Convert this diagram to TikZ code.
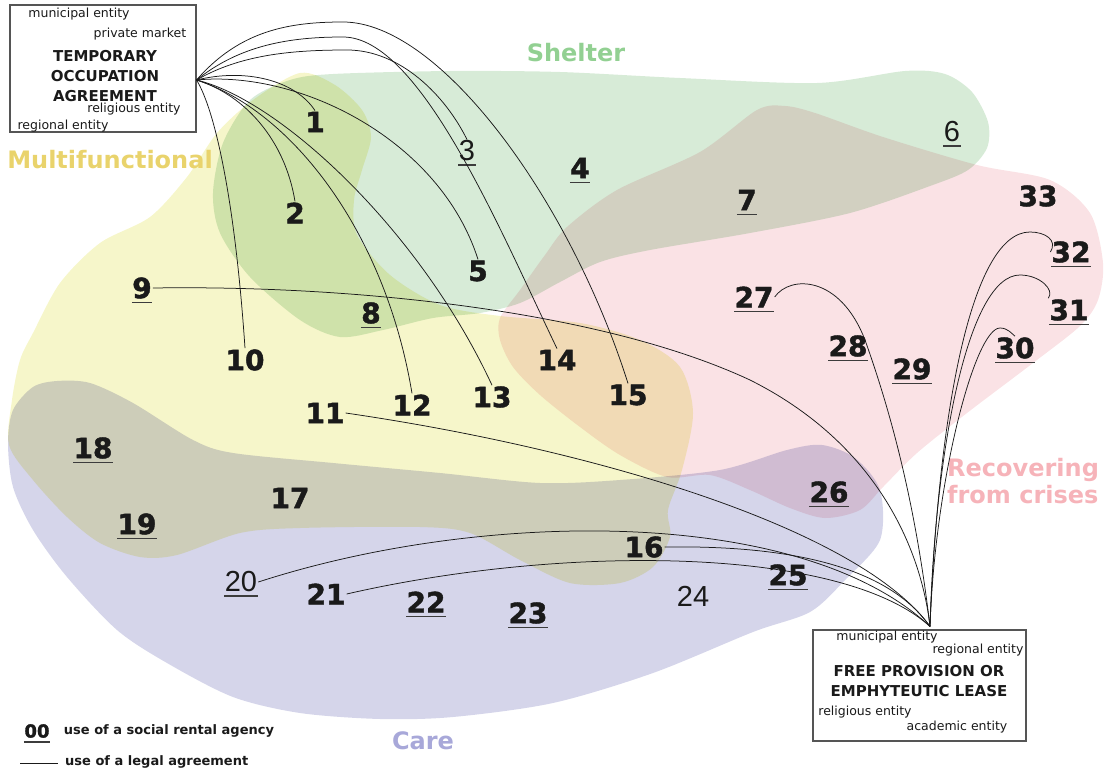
\documentclass[tikz,border=0pt]{standalone}
\usepackage{fontspec}
\setmainfont{DejaVu Sans}
\newfontfamily\thinfont{Liberation Sans}
\newfontfamily\heavyfont{DejaVu Sans}[BoldFeatures={FakeBold=1.6}]
\usetikzlibrary{positioning}

\definecolor{ink}{HTML}{1A1A1A}
\definecolor{boxgrey}{HTML}{555555}
\definecolor{multifill}{HTML}{F6F6CA}
\definecolor{shelterfill}{HTML}{D7EBD7}
\definecolor{recoverfill}{HTML}{FAE2E5}
\definecolor{carefill}{HTML}{D5D5EA}
\definecolor{multitext}{HTML}{E9D36C}
\definecolor{sheltertext}{HTML}{92D092}
\definecolor{recovertext}{HTML}{F6B3B9}
\definecolor{caretext}{HTML}{A8A8D9}

% underlined number (social rental agency)
\newsavebox{\numbox}
\newcommand{\undl}[1]{\sbox{\numbox}{#1}\rlap{\kern-0.5pt\smash{\color{ink!85}\rule[-5pt]{\dimexpr\wd\numbox+1pt\relax}{1.6pt}}}\usebox{\numbox}}

\begin{document}
\begin{tikzpicture}[
		x=1pt, y=-1pt,
		blob/.style      = {blend mode=multiply},
		num/.style       = {font=\heavyfont\fontsize{28}{28}\selectfont\bfseries, text=ink, inner sep=1pt},
		numlight/.style  = {font=\thinfont\fontsize{29}{29}\selectfont, text=ink, inner sep=1pt},
		region/.style    = {font=\fontsize{24}{27}\selectfont\bfseries, inner sep=0pt},
		small/.style     = {font=\fontsize{12.5}{14}\selectfont, text=ink, inner sep=0pt},
		heading/.style   = {font=\fontsize{15}{20}\selectfont\bfseries, align=center, text=ink, inner sep=0pt},
		agreement/.style = {draw=boxgrey, line width=1.1pt, fill=white, inner sep=0pt},
		legtext/.style   = {font=\fontsize{13}{15}\selectfont\bfseries, text=ink, inner sep=0pt, anchor=west},
		link/.style      = {draw=ink, line width=0.75pt},
	]
	\useasboundingbox (0,0) rectangle (1114,776);
	% the four fields
	\begin{scope}[blob]
		\fill[multifill] plot[smooth cycle] coordinates {(300,73) (335,85) (362,110) (371,137) (362,170) (354,200) (357,235) (390,275) (440,305) (500,316) (580,323) (640,340) (680,367) (693,413) (682,470) (668,510) (670,537) (653,567) (620,583) (570,583) (520,560) (470,533) (420,527) (300,528) (240,533) (177,555) (140,557) (100,543) (67,517) (33,480) (9,445) (12,400) (20,360) (33,333) (60,283) (100,243) (150,217) (187,177) (217,133) (253,100)};
		\fill[shelterfill] plot[smooth cycle] coordinates {(333,74) (450,71) (560,72) (680,78) (817,83) (905,71) (945,74) (972,92) (988,122) (987,148) (968,170) (930,186) (850,213) (750,233) (650,250) (600,262) (560,282) (520,303) (480,313) (433,318) (383,330) (340,337) (300,320) (250,277) (220,233) (213,193) (223,143) (250,100) (290,80)};
		\fill[recoverfill] plot[smooth cycle] coordinates {(500,318) (520,290) (545,255) (567,227) (617,190) (700,152) (757,110) (785,106) (815,113) (883,137) (977,165) (1050,180) (1090,213) (1103,263) (1098,300) (1080,326) (1033,363) (967,413) (917,453) (883,487) (860,510) (825,518) (790,508) (750,490) (710,475) (667,477) (620,455) (580,427) (540,395) (513,367) (500,340)};
		\fill[carefill] plot[smooth cycle] coordinates {(8,443) (13,410) (33,387) (57,381) (90,383) (133,403) (193,440) (233,453) (333,463) (440,473) (540,483) (620,480) (720,470) (787,450) (822,445) (855,458) (880,490) (880,540) (845,580) (810,612) (753,632) (653,673) (553,703) (453,717) (380,719) (300,713) (233,697) (167,663) (117,630) (67,577) (33,530) (13,487)};
	\end{scope}
	% field names
	\node[region, text=sheltertext] (shelter) at (576,53) {Shelter};
	\node[region, text=multitext] (multi) at (110,160) {Multifunctional};
	\node[region, text=recovertext, align=left, anchor=west] (recover) at (947,481) {Recovering\\from crises};
	\node[region, text=caretext] (care) at (423,741) {Care};
	% projects
	\begin{scope}
		\node[num] (n1) at (315,122) {1};
		\node[num] (n2) at (295,213) {2};
		\node[numlight] (n3) at (467,151) {\undl{3}};
		\node[num] (n4) at (580,168) {\undl{4}};
		\node[num] (n5) at (478,271) {5};
		\node[numlight] (n6) at (952,132) {\undl{6}};
		\node[num] (n7) at (747,200) {\undl{7}};
		\node[num] (n8) at (371,313) {\undl{8}};
		\node[num] (n9) at (142,288) {\undl{9}};
		\node[num] (n10) at (245,360) {10};
		\node[num] (n11) at (325,413) {11};
		\node[num] (n12) at (412,405) {12};
		\node[num] (n13) at (492,397) {13};
		\node[num] (n14) at (557,360) {14};
		\node[num] (n15) at (628,395) {15};
		\node[num] (n16) at (644,547) {16};
		\node[num] (n17) at (290,498) {17};
		\node[num] (n18) at (93,448) {\undl{18}};
		\node[num] (n19) at (137,524) {\undl{19}};
		\node[numlight] (n20) at (241,582) {\undl{20}};
		\node[num] (n21) at (326,594) {21};
		\node[num] (n22) at (426,602) {\undl{22}};
		\node[num] (n23) at (528,613) {\undl{23}};
		\node[numlight] (n24) at (693,596) {24};
		\node[num] (n25) at (788,575) {\undl{25}};
		\node[num] (n26) at (829,492) {\undl{26}};
		\node[num] (n27) at (754,297) {\undl{27}};
		\node[num] (n28) at (848,346) {\undl{28}};
		\node[num] (n29) at (912,369) {\undl{29}};
		\node[num] (n30) at (1015,348) {\undl{30}};
		\node[num] (n31) at (1069,310) {\undl{31}};
		\node[num] (n32) at (1071,252) {\undl{32}};
		\node[num] (n33) at (1038,196) {33};
	\end{scope}
	% agreements
	\node[agreement, minimum width=186, minimum height=127] (toa) at (103,68.5) {};
	\node[small] (toa mun) at (79,14) {municipal entity};
	\node[small] (toa priv) at (140,34) {private market};
	\node[heading] (toa title) at (105,76) {TEMPORARY\\OCCUPATION\\AGREEMENT};
	\node[small] (toa rel) at (134,109) {religious entity};
	\node[small] (toa reg) at (63,126) {regional entity};
	\coordinate (toa out) at ([yshift=-11.5pt]toa.east);

	\node[agreement, minimum width=213, minimum height=111] (fpel) at (919.5,685.5) {};
	\node[small] (fpel mun) at (887,637) {municipal entity};
	\node[small] (fpel reg) at (978,650) {regional entity};
	\node[heading] (fpel title) at (919,681) {FREE PROVISION OR\\EMPHYTEUTIC LEASE};
	\node[small] (fpel rel) at (865,712) {religious entity};
	\node[small] (fpel acad) at (957,727) {academic entity};
	\coordinate (fpel in) at ([xshift=10.5pt, yshift=3pt]fpel.north);
	% legend
	\node[num, font=\heavyfont\fontsize{18}{18}\selectfont\bfseries] (leg00) at (37,731) {\undl{00}};
	\node[legtext, right=13pt of leg00] (leg sra) {use of a social rental agency};
	\node[legtext] (leg legal) at (65,762) {use of a legal agreement};
	\coordinate (leg line) at (20,763);
	\path[link] (leg line) -- ([xshift=-7pt, yshift=-1pt]leg legal.west);
	% legal agreements
	\begin{scope}[every path/.style=link]
		\path (toa out) .. controls (245,68) and (295,80) .. (n1.north);
		\path (toa out) .. controls (245,95) and (285,140) .. (n2.north);
		\path (toa out) .. controls (240,55) and (290,50) .. (347,50) .. controls (400,50) and (445,95) .. (n3.north);
		\path (toa out) .. controls (300,70) and (440,140) .. (n5.north);
		\path (toa out) .. controls (215,110) and (235,200) .. (n10.north);
		\path (toa out) .. controls (290,110) and (385,230) .. (n12.north);
		\path (toa out) .. controls (280,100) and (420,230) .. (n13.north);
		\path (toa out) .. controls (240,45) and (290,37) .. (343,37) .. controls (420,37) and (500,230) .. (n14.north);
		\path (toa out) .. controls (240,30) and (290,22) .. (343,22) .. controls (440,22) and (570,200) .. (n15.north);

		\path (n9.east) .. controls (350,285) and (600,310) .. (750,380) .. controls (870,440) and (920,540) .. (fpel in);
		\path (n11.east) .. controls (600,450) and (860,530) .. (fpel in);
		\path (n20.east) .. controls (480,510) and (800,505) .. (fpel in);
		\path (n16.east) .. controls (800,545) and (890,570) .. (fpel in);
		\path (n21.east) .. controls (560,545) and (840,545) .. (fpel in);
		\path (n27.east) .. controls (790,275) and (840,275) .. (865,340) .. controls (890,410) and (915,500) .. (fpel in);
		\path (fpel in) .. controls (938,420) and (970,232) .. (1030,232) .. controls (1045,232) and (1058,240) .. (n32.west);
		\path (fpel in) .. controls (935,450) and (968,275) .. (1020,275) .. controls (1040,275) and (1055,290) .. (n31.north west);
		\path (fpel in) .. controls (935,480) and (975,328) .. (1000,328) .. controls (1008,328) and (1012,334) .. (n30.north);
	\end{scope}
\end{tikzpicture}
\end{document}
